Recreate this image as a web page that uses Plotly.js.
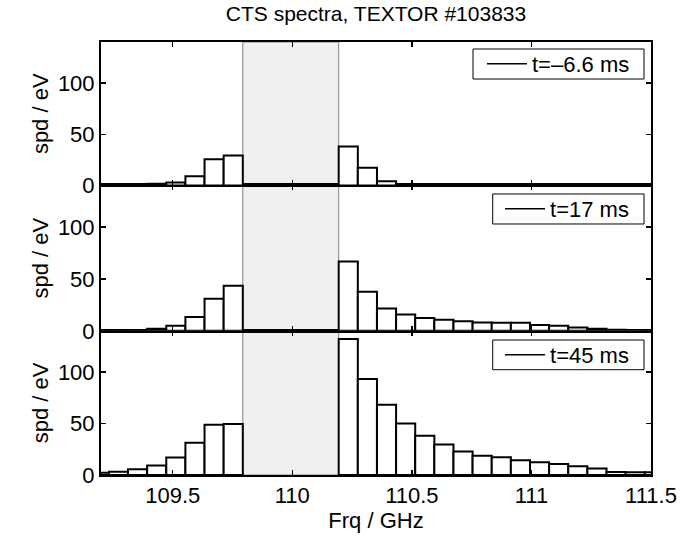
<!DOCTYPE html>
<html>
<head>
<meta charset="utf-8">
<script src="https://cdn.plot.ly/plotly-3.0.1.min.js"></script>
<style>html,body{margin:0;padding:0;background:#fff;}#chart{width:692px;height:537px;}</style>
</head>
<body>
<div id="chart"></div>
<script>
// Frequency channel centres (GHz)
const freq = [109.193, 109.273, 109.353, 109.433, 109.513, 109.593, 109.673, 109.753,
              110.234, 110.314, 110.394, 110.474, 110.554, 110.634, 110.714, 110.794,
              110.874, 110.954, 111.034, 111.114, 111.194, 111.274, 111.354, 111.434, 111.514];
// Spectral power density (eV) for the three times
const spdTm6p6 = [0.2, 0.3, 0.6, 1.6, 2.9, 9.1, 25.6, 29.2,
                  38.0, 17.2, 4.2, 1.3, 0.6, 0.3, 0.3, 0.4, 0.4, 0.3, 0.3, 0.2, 0.2, 0.2, 0.2, 0.2, 0.2];
const spdT17   = [0.2, 0.3, 0.6, 1.9, 4.9, 13.3, 30.8, 43.5,
                  66.9, 37.7, 21.4, 15.6, 12.3, 10.7, 9.1, 8.1, 7.8, 7.8, 5.5, 4.9, 3.2, 1.9, 1.0, 0.7, 0.5];
const spdT45   = [2.2, 3.2, 5.6, 9.2, 17.0, 31.2, 48.7, 49.4,
                  132.1, 93.2, 68.2, 50.0, 38.0, 29.5, 22.7, 18.8, 17.2, 14.3, 12.3, 10.7, 8.4, 6.2, 2.9, 2.6, 2.6];
const seriesLabels = ['t=\u20136.6 ms', 't=17 ms', 't=45 ms'];
// Notch-filter (blocked) band
const gapBand = [109.793, 110.194];
// Axis ticks
const xTickVals = [109.5, 110, 110.5, 111, 111.5];
const xTickText = ['109.5', '110', '110.5', '111', '111.5'];
const yTickVals = [0, 50, 100];
const yTickText = ['0', '50', '100'];
const xRange = [109.2, 111.5];
const yRange = [0, 140];
const binWidth = 0.08;

const FONT = 'Liberation Sans, Arial, Helvetica, sans-serif';
const FS = 22;

// panels: top -> x3/y3, middle -> x2/y2, bottom -> x/y
const panels = [
  {xa: 'x3', ya: 'y3', data: spdTm6p6, leg: 'legend'},
  {xa: 'x2', ya: 'y2', data: spdT17, leg: 'legend2'},
  {xa: 'x',  ya: 'y',  data: spdT45, leg: 'legend3'}
];

const traces = [];
panels.forEach((p, i) => {
  traces.push({
    type: 'bar', x: freq, y: p.data, xaxis: p.xa, yaxis: p.ya,
    width: binWidth, showlegend: false, hoverinfo: 'x+y',
    marker: {color: '#ffffff', line: {color: '#000000', width: 2}}
  });
  traces.push({
    type: 'scatter', mode: 'lines', x: [null], y: [null], xaxis: p.xa, yaxis: p.ya,
    name: seriesLabels[i], legend: p.leg, showlegend: true,
    line: {color: '#000000', width: 1.5}
  });
});

function xAx(extra) {
  return Object.assign({
    range: xRange, showgrid: false, zeroline: false,
    showline: true, linecolor: '#000', linewidth: 2, mirror: 'ticks',
    ticks: 'inside', ticklen: 5, tickwidth: 1.5, tickcolor: '#000',
    tickvals: xTickVals, ticktext: xTickText,
    tickfont: {family: FONT, size: FS, color: '#000'}
  }, extra);
}
function yAx(domain, extra) {
  return Object.assign({
    domain: domain, range: yRange, showgrid: false, zeroline: false,
    showline: true, linecolor: '#000', linewidth: 2, mirror: 'ticks',
    ticks: 'inside', ticklen: 5, tickwidth: 1.5, tickcolor: '#000',
    tickvals: yTickVals, ticktext: yTickText,
    tickfont: {family: FONT, size: FS, color: '#000'},
    title: {text: 'spd / eV', font: {family: FONT, size: FS, color: '#000'}, standoff: 3}
  }, extra);
}

const legendBase = {
  xref: 'paper', yref: 'paper', xanchor: 'left', yanchor: 'middle',
  bgcolor: 'rgba(0,0,0,0)', borderwidth: 0, itemwidth: 40,
  font: {family: FONT, size: FS, color: '#000'}
};

const shapes = ['y3', 'y2', 'y'].map(ya => ({
  type: 'rect', xref: 'x', yref: ya + ' domain',
  x0: gapBand[0], x1: gapBand[1], y0: 0, y1: 1,
  fillcolor: '#f0f0f0', line: {color: '#808080', width: 1}, layer: 'below'
}));
// legend frames
[[0.6764, 0.9873, 0.9145, 0.9838], [0.7122, 0.9873, 0.5797, 0.6490], [0.7122, 0.9873, 0.2432, 0.3118]]
  .forEach(b => shapes.push({
    type: 'rect', xref: 'paper', yref: 'paper', x0: b[0], x1: b[1], y0: b[2], y1: b[3],
    fillcolor: '#ffffff', line: {color: '#000', width: 1}, layer: 'above'
  }));

const layout = {
  width: 692, height: 537,
  margin: {l: 101, r: 41, t: 42, b: 62},
  paper_bgcolor: '#ffffff', plot_bgcolor: '#ffffff',
  font: {family: FONT, size: FS, color: '#000'},
  title: {text: 'CTS spectra, TEXTOR #103833', font: {family: FONT, size: 21, color: '#000'},
          xref: 'paper', x: 0.5, xanchor: 'center', yref: 'container', y: 0.974, yanchor: 'middle'},
  bargap: 0,
  xaxis: xAx({anchor: 'y', title: {text: 'Frq / GHz', font: {family: FONT, size: FS, color: '#000'}, standoff: 2}}),
  xaxis2: xAx({anchor: 'y2', matches: 'x', showticklabels: false}),
  xaxis3: xAx({anchor: 'y3', matches: 'x', showticklabels: false}),
  yaxis: yAx([0, 0.333], {anchor: 'x'}),
  yaxis2: yAx([0.333, 0.6686], {anchor: 'x2'}),
  yaxis3: yAx([0.6686, 1], {anchor: 'x3'}),
  legend: Object.assign({}, legendBase, {x: 0.6927, y: 0.9492}),
  legend2: Object.assign({}, legendBase, {x: 0.7255, y: 0.6143}),
  legend3: Object.assign({}, legendBase, {x: 0.7255, y: 0.2775}),
  shapes: shapes,
  showlegend: true
};

Plotly.newPlot('chart', traces, layout, {displayModeBar: false, staticPlot: true});
</script>
</body>
</html>
